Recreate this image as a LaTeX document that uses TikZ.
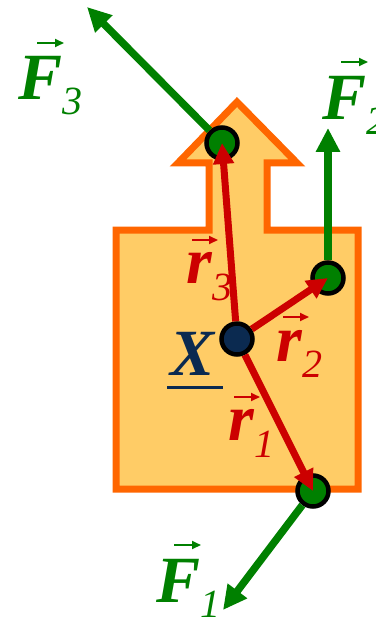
\documentclass[tikz,border=0pt]{standalone}
\usepackage{fontspec}
\setmainfont{Liberation Serif}
\usetikzlibrary{arrows.meta}
\definecolor{leaf}{HTML}{008000}
\definecolor{blood}{HTML}{CC0000}
\definecolor{rim}{HTML}{FF6600}
\definecolor{body}{HTML}{FFCC66}
\definecolor{navy}{HTML}{0B2A50}
\newcommand\bigsz{\fontsize{66}{66}\selectfont}
\newcommand\subsz{\fontsize{40}{40}\selectfont}
\newcommand\vlab[3]{\textbf{\textit{#1}}\raisebox{-#3}{\subsz\textit{#2}}}
\tikzset{plate/.style={draw=rim,fill=body,line width=7pt}, dot/.style={circle,draw=black,line width=4.5pt,fill=leaf,minimum size=31pt,inner sep=0pt},farr/.style={-{Triangle[length=24pt,width=23pt]},line width=7.5pt,draw=leaf},rarr/.style={-{Triangle[length=21pt,width=20pt]},line width=7pt,draw=blood},lab/.style={anchor=base west,inner sep=0pt,font=\bigsz},vtip/.style={-{Triangle[length=9pt,width=8pt]},line width=2pt,draw=#1}}
\begin{document}
\begin{tikzpicture}[x=1pt,y=-1pt]
\clip(0,0)rectangle(375,620);
\draw[plate](116,230)--(209,230)--(209,163)--(178,163)--(237,102)--(297,163)--(267,163)--(267,230)--(358,230)--(358,489)--(116,489)--cycle;
\coordinate(t3)at(87,7);\coordinate(t2)at(328,128);\coordinate(t1)at(223,610);
\node[dot](P3)at(222,143){};\node[dot](P2)at(328,278){};\node[dot](P1)at(313,491){};
\draw[farr](P3)--(t3);\draw[farr](P2)--(t2);\draw[farr](P1)--(t1);
\node[dot,fill=navy](pX)at(237,339){};
\draw[rarr](pX)--(P3.center);\draw[rarr](pX)--(P2.center);\draw[rarr](pX)--(P1.center);
\node[lab,text=leaf](F3)at(18,100){\vlab{F}{3}{15pt}};\node[lab,text=leaf](F2)at(322,120){\vlab{F}{2}{15pt}};\node[lab,text=leaf](F1)at(156,602){\vlab{F}{1}{15pt}};
\node[lab,text=blood](r3)at(186,283){\vlab{r}{3}{17pt}};\node[lab,text=blood](r2)at(276,361){\vlab{r}{2}{16pt}};\node[lab,text=blood](r1)at(228,440){\vlab{r}{1}{17pt}};
\node[lab,text=navy](Xl)at(170,375){\rlap{\hspace{-3pt}\raisebox{-13.5pt}{\rule{56pt}{3pt}}}\textbf{\textit{X}}};
\draw[vtip=leaf]([shift={(19,-57)}]F3.base west)--++(27,0);\draw[vtip=leaf]([shift={(19,-58)}]F2.base west)--++(27,0);\draw[vtip=leaf]([shift={(18,-57)}]F1.base west)--++(27,0);
\draw[vtip=blood]([shift={(6,-43)}]r3.base west)--++(26,0);\draw[vtip=blood]([shift={(7,-44)}]r2.base west)--++(26,0);\draw[vtip=blood]([shift={(6,-43)}]r1.base west)--++(26,0);
\end{tikzpicture}
\end{document}
